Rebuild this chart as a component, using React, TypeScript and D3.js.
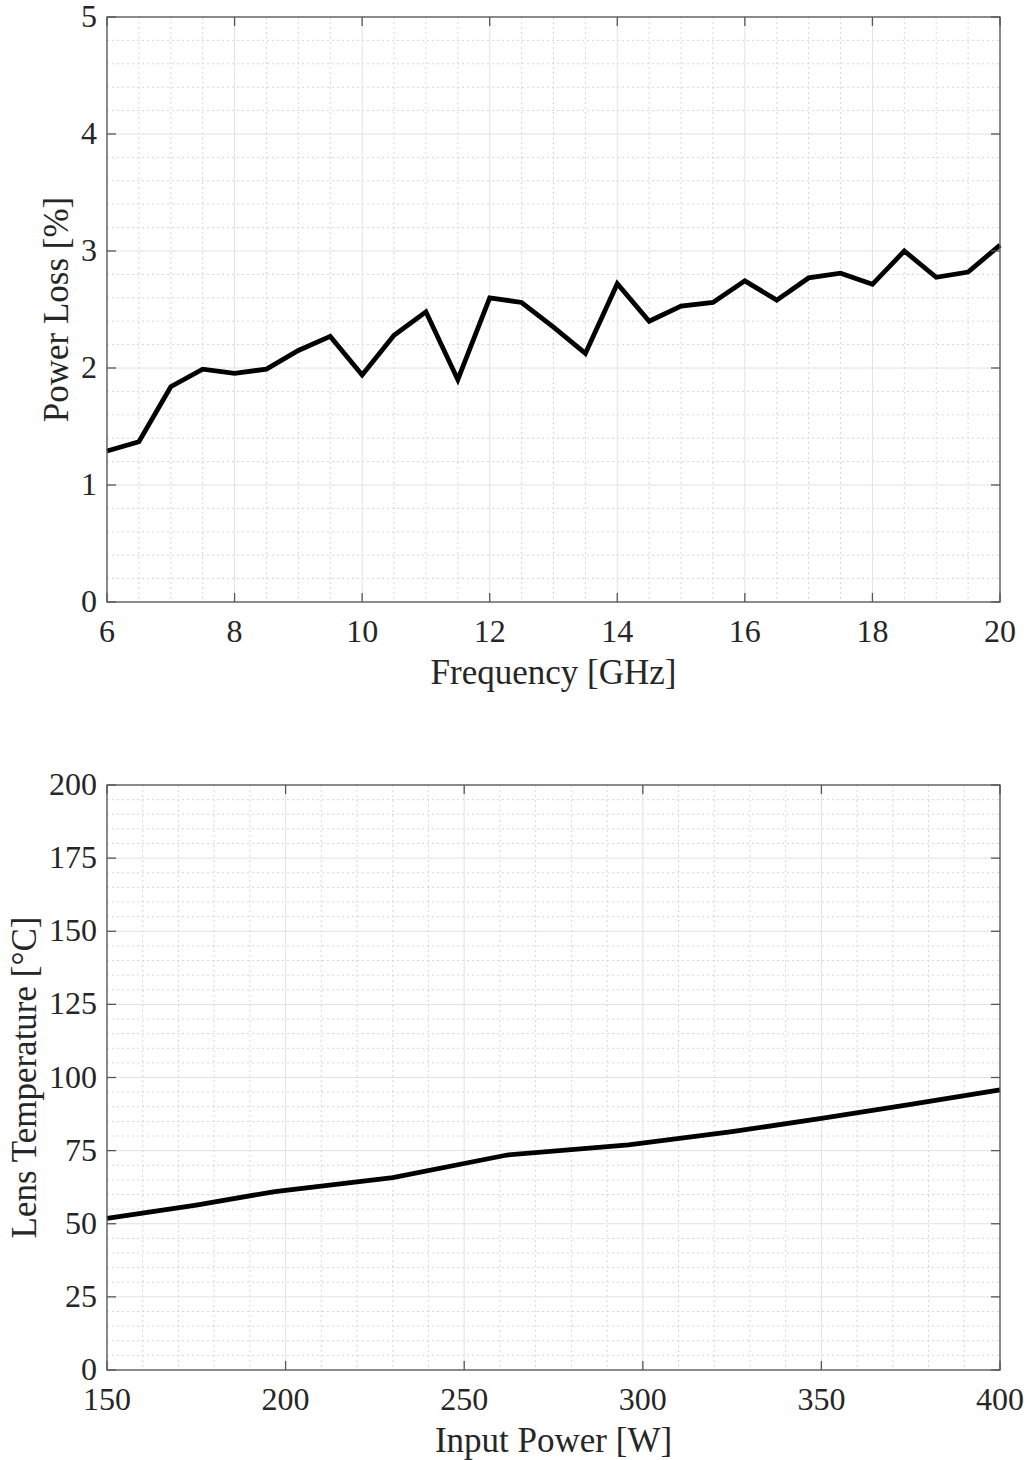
import React from "react";
import * as d3 from "d3";

// Top chart data
const freqGHz = [6, 6.5, 7, 7.5, 8, 8.5, 9, 9.5, 10, 10.5, 11, 11.5, 12, 12.5, 13, 13.5, 14, 14.5, 15, 15.5, 16, 16.5, 17, 17.5, 18, 18.5, 19, 19.5, 20];
const powerLoss = [1.29, 1.37, 1.84, 1.99, 1.955, 1.99, 2.15, 2.27, 1.94, 2.28, 2.48, 1.9, 2.6, 2.56, 2.35, 2.125, 2.72, 2.4, 2.53, 2.56, 2.745, 2.58, 2.77, 2.81, 2.715, 3.0, 2.775, 2.82, 3.05];
const topXTicks = [6, 8, 10, 12, 14, 16, 18, 20];
const topYTicks = [0, 1, 2, 3, 4, 5];

// Bottom chart data
const inputPowerW = [150, 175, 197, 230, 262, 296, 325, 350, 375, 400];
const lensTemp = [51.8, 56.4, 61.0, 65.8, 73.5, 77.0, 81.5, 86.0, 90.8, 95.8];
const botXTicks = [150, 200, 250, 300, 350, 400];
const botYTicks = [0, 25, 50, 75, 100, 125, 150, 175, 200];

const FONT = "'Liberation Serif', 'Times New Roman', Times, serif";
const TXT = "#262626";
const AX = "#555555";

type PanelProps = {
  top: number;
  xs: number[];
  ys: number[];
  xDomain: [number, number];
  yDomain: [number, number];
  xTicks: number[];
  yTicks: number[];
  xMinorStep: number;
  yMinorStep: number;
  xLabel: string;
  yLabel: string;
  yLabelX: number;
};

function range(a: number, b: number, s: number) {
  const out: number[] = [];
  const n = Math.round((b - a) / s);
  for (let i = 0; i <= n; i++) out.push(+(a + i * s).toFixed(6));
  return out;
}

function Panel(p: PanelProps) {
  const L = 107, R = 1000, T = p.top, B = p.top + 585;
  const x = d3.scaleLinear().domain(p.xDomain).range([L, R]);
  const y = d3.scaleLinear().domain(p.yDomain).range([B, T]);
  const xMinor = range(p.xDomain[0], p.xDomain[1], p.xMinorStep).filter(v => !p.xTicks.some(t => Math.abs(t - v) < 1e-6));
  const yMinor = range(p.yDomain[0], p.yDomain[1], p.yMinorStep).filter(v => !p.yTicks.some(t => Math.abs(t - v) < 1e-6));
  const line = d3.line<number>().x((_, i) => x(p.xs[i])).y(d => y(d));
  const tl = 9;
  return (
    <g>
      {xMinor.map(v => (
        <line key={"xm" + v} x1={x(v)} x2={x(v)} y1={T} y2={B} stroke="#d6d6d6" strokeWidth={1} strokeDasharray="2,3" />
      ))}
      {yMinor.map(v => (
        <line key={"ym" + v} x1={L} x2={R} y1={y(v)} y2={y(v)} stroke="#d6d6d6" strokeWidth={1} strokeDasharray="2,3" />
      ))}
      {p.xTicks.map(v => (
        <line key={"xg" + v} x1={x(v)} x2={x(v)} y1={T} y2={B} stroke="#e2e2e2" strokeWidth={1} />
      ))}
      {p.yTicks.map(v => (
        <line key={"yg" + v} x1={L} x2={R} y1={y(v)} y2={y(v)} stroke="#e2e2e2" strokeWidth={1} />
      ))}
      <path d={line(p.ys) || ""} fill="none" stroke="#000" strokeWidth={4.8} strokeLinejoin="miter" />
      <rect x={L} y={T} width={R - L} height={B - T} fill="none" stroke={AX} strokeWidth={1.3} />
      {p.xTicks.map(v => (
        <g key={"xt" + v}>
          <line x1={x(v)} x2={x(v)} y1={B} y2={B - tl} stroke={AX} strokeWidth={1.3} />
          <line x1={x(v)} x2={x(v)} y1={T} y2={T + tl} stroke={AX} strokeWidth={1.3} />
          <text x={x(v)} y={B + 40} textAnchor="middle" style={{ fontFamily: FONT, fontSize: 32 }} fill={TXT}>{v}</text>
        </g>
      ))}
      {p.yTicks.map(v => (
        <g key={"yt" + v}>
          <line x1={L} x2={L + tl} y1={y(v)} y2={y(v)} stroke={AX} strokeWidth={1.3} />
          <line x1={R} x2={R - tl} y1={y(v)} y2={y(v)} stroke={AX} strokeWidth={1.3} />
          <text x={L - 10} y={y(v) + 10} textAnchor="end" style={{ fontFamily: FONT, fontSize: 32 }} fill={TXT}>{v}</text>
        </g>
      ))}
      <text x={(L + R) / 2} y={B + 82} textAnchor="middle" style={{ fontFamily: FONT, fontSize: 35 }} fill={TXT}>{p.xLabel}</text>
      <text transform={`translate(${p.yLabelX},${(T + B) / 2}) rotate(-90)`} textAnchor="middle" style={{ fontFamily: FONT, fontSize: 35 }} fill={TXT}>{p.yLabel}</text>
    </g>
  );
}

export default function App() {
  return (
    <svg width={1028} height={1460} style={{ display: "block", position: "absolute", left: 0, top: 0, background: "#fff" }}>
      <rect width={1028} height={1460} fill="#fff" />
      <Panel top={17} xs={freqGHz} ys={powerLoss} xDomain={[6, 20]} yDomain={[0, 5]} xTicks={topXTicks} yTicks={topYTicks}
        xMinorStep={0.5} yMinorStep={0.2} xLabel="Frequency [GHz]" yLabel="Power Loss [%]" yLabelX={68} />
      <Panel top={785} xs={inputPowerW} ys={lensTemp} xDomain={[150, 400]} yDomain={[0, 200]} xTicks={botXTicks} yTicks={botYTicks}
        xMinorStep={10} yMinorStep={5} xLabel="Input Power [W]" yLabel="Lens Temperature [°C]" yLabelX={36} />
    </svg>
  );
}
